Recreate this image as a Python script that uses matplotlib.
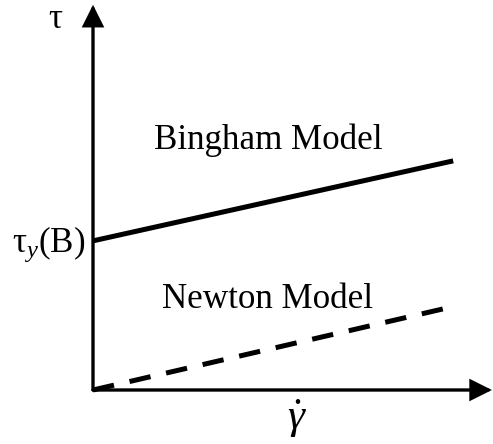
import matplotlib
matplotlib.use("Agg")
import matplotlib.pyplot as plt

plt.rcParams['mathtext.fontset'] = 'custom'
plt.rcParams['mathtext.rm'] = 'Liberation Serif'
plt.rcParams['mathtext.it'] = 'Liberation Serif:italic'
plt.rcParams['lines.scale_dashes'] = False

# ---- data (arbitrary rheology units) ----
gamma_bingham = [0.0, 9.95]
tau_bingham = [4.12, 6.33]
gamma_newton = [0.0, 9.67]
tau_newton = [0.0, 2.24]
axis_x_max = 11.02
axis_y_max = 10.64
labels = {
    "bingham": "Bingham Model",
    "newton": "Newton Model",
    "tau": "τ",
    "tau_y": r"$\mathrm{\tau}_{\mathit{y}}\mathrm{(B)}$",
    "gamma": r"$\dot{\gamma}$",
}

W, H = 493, 444
S = 36.2          # pixels per data unit
X0, Y0 = 93, 390  # origin in pixels

fig = plt.figure(figsize=(W / 100, H / 100), dpi=100)
ax = fig.add_axes([0, 0, 1, 1])
ax.set_xlim(-X0 / S, (W - X0) / S)
ax.set_ylim(-(H - Y0) / S, Y0 / S)
ax.axis('off')

# axes arrows
arrow_kw = dict(arrowstyle='-|>', mutation_scale=31, color='black', lw=2.4,
                shrinkA=0, shrinkB=0, joinstyle='miter')
ax.annotate('', xy=(axis_x_max, 0), xytext=(0, 0), arrowprops=arrow_kw)
ax.annotate('', xy=(0, axis_y_max), xytext=(0, 0), arrowprops=arrow_kw)

# model lines
ax.plot(gamma_bingham, tau_bingham, color='black', lw=3.6, solid_capstyle='butt')
ax.plot(gamma_newton, tau_newton, color='black', lw=3.6,
        dashes=(15.5, 11.5), dash_capstyle='butt')

def fx(px):
    return px / W

def fy(py):
    return 1 - py / H

font = dict(family='Liberation Serif', color='black')
fig.text(fx(268), fy(149), labels["bingham"], fontsize=25.2, ha='center', va='baseline', **font)
fig.text(fx(268), fy(308), labels["newton"], fontsize=25.2, ha='center', va='baseline', **font)
fig.text(fx(55), fy(28), labels["tau"], fontsize=25.2, ha='center', va='baseline', **font)
fig.text(fx(12), fy(251.5), labels["tau_y"], fontsize=25.2, ha='left', va='baseline', **font)
fig.text(fx(297), fy(419), labels["gamma"], fontsize=31, ha='center', va='center', **font)

fig.savefig('out.png', dpi=100)
